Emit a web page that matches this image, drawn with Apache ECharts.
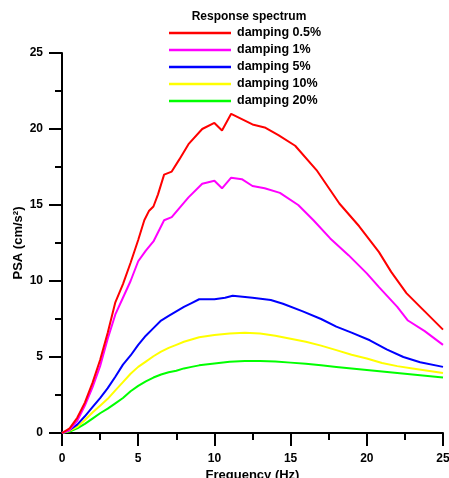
<!DOCTYPE html>
<html>
<head>
<meta charset="utf-8">
<script src="https://cdn.jsdelivr.net/npm/echarts@6/dist/echarts.min.js"></script>
<style>
html,body{margin:0;padding:0;background:#fff;}
#chart{width:449px;height:478px;}
</style>
</head>
<body>
<div id="chart"></div>
<script>
var seriesNames = ['damping 0.5%', 'damping 1%', 'damping 5%', 'damping 10%', 'damping 20%'];
var xTicks = [0, 5, 10, 15, 20, 25];
var yTicks = [0, 5, 10, 15, 20, 25];

var freq05 = [0,0.5,1.0,1.5,2.0,2.5,3.0,3.5,4.0,4.5,5.0,5.4,5.7,6.0,6.3,6.7,7.2,7.7,8.3,9.2,10.0,10.5,11.1,12.5,13.3,14.2,15.3,16.7,18.2,19.5,20.8,21.6,22.6,23.8,25];
var psa05  = [0,0.3,1.0,2.0,3.3,4.8,6.6,8.6,9.8,11.2,12.7,14.0,14.6,14.9,15.7,17.0,17.2,18.0,19.0,20.0,20.4,19.9,21.0,20.3,20.1,19.6,18.9,17.3,15.1,13.6,11.9,10.6,9.2,8.0,6.8];

var freq1 = [0,0.5,1.0,1.5,2.0,2.5,3.0,3.5,4.0,4.5,5.0,5.5,6.0,6.7,7.2,7.7,8.3,9.2,10.0,10.5,11.1,11.8,12.5,13.3,14.3,15.5,16.5,17.6,18.8,20.0,20.8,22.0,22.7,23.8,25];
var psa1  = [0,0.2,0.8,1.8,3.0,4.4,6.2,7.8,8.9,10.0,11.3,12.0,12.6,14.0,14.2,14.8,15.5,16.4,16.6,16.1,16.8,16.7,16.25,16.1,15.8,15.0,14.0,12.8,11.7,10.5,9.6,8.3,7.4,6.7,5.8];

var freq5 = [0,0.5,1.0,1.5,2.0,2.5,3.0,3.5,4.0,4.5,5.0,5.5,6.0,6.5,7.0,7.5,8.0,8.5,9.0,10.0,10.7,11.2,12.5,13.7,14.5,15.8,17.0,18.0,19.0,20.2,21.3,22.4,23.5,25];
var psa5  = [0,0.2,0.55,1.1,1.7,2.3,2.95,3.7,4.5,5.1,5.8,6.4,6.9,7.4,7.7,8.0,8.3,8.55,8.8,8.8,8.9,9.03,8.9,8.75,8.5,8.0,7.5,7.0,6.6,6.1,5.5,5.0,4.65,4.35];

var freq10 = [0,0.5,1.0,1.5,2.0,2.5,3.0,3.5,4.0,4.5,5.0,5.5,6.0,6.5,7.0,7.5,8.0,8.5,9.0,10.0,11.0,12.0,13.0,14.0,15.0,16.0,17.0,18.0,19.0,20.0,21.0,22.0,23.0,24.0,25];
var psa10  = [0,0.15,0.4,0.85,1.35,1.8,2.25,2.8,3.35,3.9,4.35,4.7,5.05,5.35,5.6,5.8,6.0,6.15,6.3,6.45,6.55,6.6,6.55,6.4,6.2,6.0,5.75,5.45,5.15,4.9,4.6,4.4,4.25,4.1,3.95];

var freq20 = [0,0.5,1.0,1.5,2.0,2.5,3.0,3.5,4.0,4.5,5.0,5.5,6.0,6.5,7.0,7.5,8.0,8.5,9.0,10.0,11.0,12.0,13.0,14.0,15.0,16.0,17.0,18.0,19.0,20.0,21.0,22.0,23.0,24.0,25];
var psa20  = [0,0.1,0.3,0.6,0.95,1.3,1.6,1.95,2.3,2.75,3.1,3.4,3.65,3.85,4.0,4.1,4.25,4.35,4.45,4.58,4.68,4.73,4.74,4.7,4.63,4.55,4.45,4.35,4.25,4.15,4.05,3.95,3.85,3.75,3.65];

var colors = ['#ff0000', '#ff00ff', '#0000ff', '#ffff00', '#00ff00'];

function zip(xs, ys) { return xs.map(function (x, i) { return [x, ys[i]]; }); }
var allData = [zip(freq05, psa05), zip(freq1, psa1), zip(freq5, psa5), zip(freq10, psa10), zip(freq20, psa20)];

var font = 'Liberation Sans, Arial, sans-serif';
var chart = echarts.init(document.getElementById('chart'));
chart.setOption({
  backgroundColor: '#fff',
  animation: false,
  title: {
    text: 'Response spectrum',
    left: 244, textAlign: 'center', top: 6,
    textStyle: {fontFamily: font, fontWeight: 'bold', fontSize: 12, color: '#000'}
  },
  legend: {
    orient: 'vertical',
    left: 164, top: 21,
    itemWidth: 62, itemHeight: 2.5, itemGap: 3,
    icon: 'rect',
    textStyle: {fontFamily: font, fontWeight: 'bold', fontSize: 12.5, color: '#000', lineHeight: 14, padding: [0,0,0,1]},
    data: seriesNames
  },
  grid: {left: 62, top: 53, right: 6, bottom: 45, outerBoundsMode: 'none', containLabel: false},
  xAxis: {
    type: 'value', min: 0, max: 25, interval: 5,
    name: 'Frequency (Hz)', nameLocation: 'middle', nameGap: 36, nameMoveOverlap: false,
    nameTextStyle: {fontFamily: font, fontWeight: 'bold', fontSize: 13, color: '#000'},
    axisLine: {show: true, lineStyle: {color: '#000', width: 2}},
    axisTick: {show: true, length: 13, lineStyle: {color: '#000', width: 2}},
    minorTick: {show: true, splitNumber: 2, length: 7, lineStyle: {color: '#000', width: 2}},
    axisLabel: {fontFamily: font, fontWeight: 'bold', fontSize: 12, color: '#000', margin: 20,
      formatter: function (v) { return xTicks.indexOf(v) >= 0 ? String(v) : ''; }},
    splitLine: {show: false}
  },
  yAxis: {
    type: 'value', min: 0, max: 25, interval: 5,
    name: 'PSA (cm/s²)', nameLocation: 'middle', nameGap: 37, nameRotate: 90, nameMoveOverlap: false,
    nameTextStyle: {fontFamily: font, fontWeight: 'bold', fontSize: 13, color: '#000'},
    axisLine: {show: true, lineStyle: {color: '#000', width: 2}},
    axisTick: {show: true, length: 13, lineStyle: {color: '#000', width: 2}},
    minorTick: {show: true, splitNumber: 2, length: 7, lineStyle: {color: '#000', width: 2}},
    axisLabel: {fontFamily: font, fontWeight: 'bold', fontSize: 12, color: '#000', margin: 19,
      formatter: function (v) { return yTicks.indexOf(v) >= 0 ? String(v) : ''; }},
    splitLine: {show: false}
  },
  series: seriesNames.map(function (n, i) {
    return {
      name: n, type: 'line', data: allData[i], symbol: 'none', smooth: false,
      color: colors[i],
      lineStyle: {color: colors[i], width: 2},
      z: 10 - i
    };
  })
});
</script>
</body>
</html>
